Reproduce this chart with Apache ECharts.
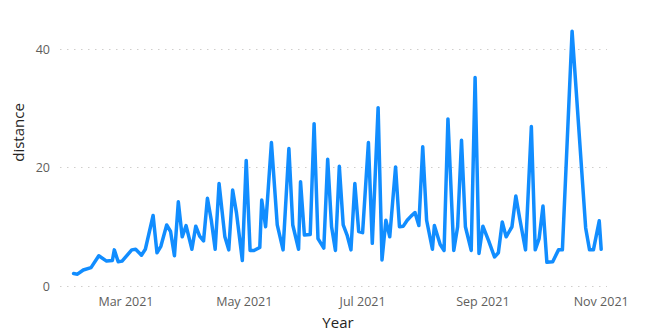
<!DOCTYPE html>
<html>
<head>
<meta charset="utf-8">
<script src="https://cdn.jsdelivr.net/npm/echarts@6/dist/echarts.min.js"></script>
<style>
  html, body { margin: 0; padding: 0; background: #ffffff; }
  #chart { width: 656px; height: 333px; }
</style>
</head>
<body>
<div id="chart"></div>
<script>
const dates = ['2021-02-02','2021-02-04','2021-02-07','2021-02-11','2021-02-15','2021-02-19','2021-02-22','2021-02-23','2021-02-25','2021-02-27',
  '2021-03-04','2021-03-06','2021-03-09','2021-03-11','2021-03-15','2021-03-17','2021-03-19','2021-03-22','2021-03-24','2021-03-26','2021-03-28','2021-03-30',
  '2021-04-01','2021-04-04','2021-04-06','2021-04-08','2021-04-10','2021-04-12','2021-04-14','2021-04-16','2021-04-18','2021-04-21','2021-04-23','2021-04-25','2021-04-27','2021-04-30',
  '2021-05-02','2021-05-04','2021-05-06','2021-05-09','2021-05-10','2021-05-12','2021-05-15','2021-05-18','2021-05-21','2021-05-24','2021-05-26','2021-05-29','2021-05-30',
  '2021-06-01','2021-06-04','2021-06-06','2021-06-08','2021-06-11','2021-06-13','2021-06-15','2021-06-17','2021-06-19','2021-06-21','2021-06-23','2021-06-25','2021-06-27','2021-06-29',
  '2021-07-01','2021-07-04','2021-07-06','2021-07-09','2021-07-11','2021-07-13','2021-07-15','2021-07-18','2021-07-20','2021-07-22','2021-07-24','2021-07-26','2021-07-28','2021-07-30',
  '2021-08-01','2021-08-03','2021-08-06','2021-08-07','2021-08-10','2021-08-12','2021-08-14','2021-08-17','2021-08-19','2021-08-21','2021-08-23','2021-08-26','2021-08-28','2021-08-30',
  '2021-09-01','2021-09-04','2021-09-07','2021-09-09','2021-09-11','2021-09-13','2021-09-16','2021-09-18','2021-09-20','2021-09-23','2021-09-26','2021-09-28','2021-09-30',
  '2021-10-02','2021-10-04','2021-10-07','2021-10-10','2021-10-12','2021-10-17','2021-10-24','2021-10-26','2021-10-28','2021-10-31',
  '2021-11-01'];

const distance = [2.1,2.0,2.7,3.1,5.1,4.2,4.3,6.1,4.1,4.2,
  6.1,6.2,5.2,6.2,11.9,5.6,6.7,10.3,9.2,5.1,
  14.2,8.3,10.2,6.2,10.1,8.4,7.6,14.8,11.1,6.2,
  17.3,8.3,6.1,16.2,12.3,4.3,21.2,6.0,6.0,6.5,
  14.5,10.0,24.2,10.3,6.1,23.2,10.3,6.2,17.6,8.6,
  8.7,27.4,8.0,6.4,21.4,10.0,6.0,20.2,10.3,8.6,
  6.1,17.3,9.2,9.0,24.2,7.2,30.1,4.4,11.1,8.3,
  20.1,10.0,10.1,11.1,11.8,12.4,10.2,23.5,11.1,6.2,
  10.2,7.0,6.0,28.2,6.0,10.0,24.6,10.0,6.0,35.2,
  5.5,10.1,7.6,4.9,5.6,10.8,8.3,10.0,15.2,11.4,
  6.1,26.9,6.1,8.0,13.5,4.0,4.1,6.1,6.1,43.0,
  9.8,6.1,6.1,11.0,6.2];

const xTickDates = ['2021-03-01','2021-05-01','2021-07-01','2021-09-01','2021-11-01'];
const xRange = ['2021-01-26','2021-11-04'];
const monthNames = ['Jan','Feb','Mar','Apr','May','Jun','Jul','Aug','Sep','Oct','Nov','Dec'];
const yTicks = [0, 20, 40];

const xAxisTitle = 'Year';
const yAxisTitle = 'distance';

function ts(d) { return Date.UTC(+d.slice(0, 4), +d.slice(5, 7) - 1, +d.slice(8, 10)); }

const chart = echarts.init(document.getElementById('chart'), null, { renderer: 'svg' });

const seriesData = dates.map((d, i) => [ts(d), distance[i]]);
const tickValues = xTickDates.map(ts);

const labelFont = '"Open Sans", "Noto Sans", sans-serif';

chart.setOption({
  animation: false,
  backgroundColor: '#ffffff',
  grid: { left: 60, right: 49, top: 49, bottom: 47, containLabel: false },
  xAxis: {
    type: 'value',
    min: ts(xRange[0]),
    max: ts(xRange[1]),
    axisLine: { show: false },
    axisTick: { show: false },
    splitLine: { show: false },
    axisLabel: {
      customValues: tickValues,
      color: '#605E5C',
      fontFamily: labelFont,
      fontSize: 12.5,
      margin: 9,
      formatter: function (v) {
        const d = new Date(v);
        return monthNames[d.getUTCMonth()] + ' ' + d.getUTCFullYear();
      }
    }
  },
  yAxis: {
    type: 'value',
    min: yTicks[0],
    max: yTicks[yTicks.length - 1],
    interval: 20,
    axisLine: { show: false },
    axisTick: { show: false },
    axisLabel: {
      color: '#605E5C',
      fontFamily: labelFont,
      fontSize: 12.5,
      margin: 10
    },
    splitLine: {
      show: true,
      lineStyle: { color: '#D0CECC', width: 1, type: [1.5, 5.5] }
    }
  },
  graphic: [
    {
      type: 'text',
      x: 17.5,
      y: 132.5,
      rotation: Math.PI / 2,
      style: {
        text: yAxisTitle,
        fill: '#252423',
        font: '15px "Open Sans", "Noto Sans", sans-serif',
        align: 'center',
        verticalAlign: 'middle'
      }
    },
    {
      type: 'text',
      x: 338,
      y: 321.5,
      style: {
        text: xAxisTitle,
        fill: '#252423',
        font: '15px "Open Sans", "Noto Sans", sans-serif',
        align: 'center',
        verticalAlign: 'middle'
      }
    }
  ],
  series: [
    {
      type: 'line',
      data: seriesData,
      showSymbol: false,
      symbol: 'none',
      clip: false,
      lineStyle: { color: '#118DFF', width: 3.5, join: 'round', cap: 'round' }
    }
  ]
});
</script>
</body>
</html>
